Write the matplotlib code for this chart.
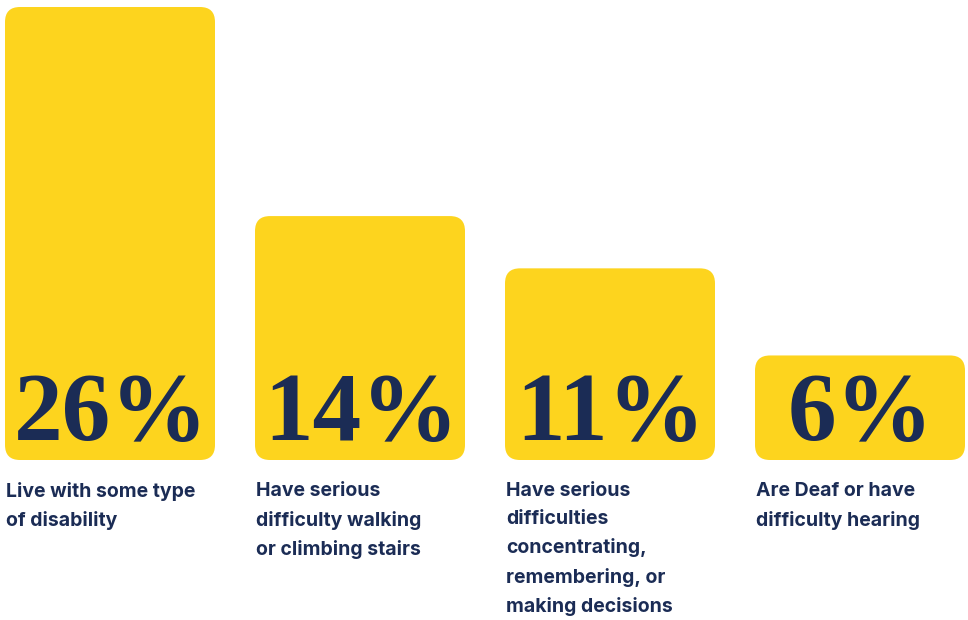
import matplotlib
matplotlib.use("Agg")
import matplotlib.pyplot as plt
from matplotlib.patches import FancyBboxPatch

categories = [
    "Live with some type\nof disability",
    "Have serious\ndifficulty walking\nor climbing stairs",
    "Have serious\ndifficulties\nconcentrating,\nremembering, or\nmaking decisions",
    "Are Deaf or have\ndifficulty hearing",
]
values = [26, 14, 11, 6]
value_labels = ["26%", "14%", "11%", "6%"]

YELLOW = "#FDD41E"
NAVY = "#1B2C55"

W, H = 968, 620
fig = plt.figure(figsize=(W / 100, H / 100), dpi=100)
ax = fig.add_axes([0, 0, 1, 1])

px_x = 250.0          # pixels per category unit
px_y = 453.0 / 26.0   # pixels per percent
x0 = 110.0            # pixel center of first bar
base = 460.0          # pixel of baseline from top
ax.set_xlim(-x0 / px_x, (W - x0) / px_x)
ax.set_ylim(-(H - base) / px_y, base / px_y)
ax.axis("off")

bw = 210.0 / px_x
aspect = px_x / px_y
for i, (v, lab, cat) in enumerate(zip(values, value_labels, categories)):
    p = FancyBboxPatch((i - bw / 2, 0), bw, v,
                       boxstyle="round,pad=0,rounding_size=0.06",
                       mutation_aspect=aspect,
                       facecolor=YELLOW, edgecolor="none")
    ax.add_patch(p)
    ax.text(i + 1.0 / px_x, 20.0 / px_y, lab, ha="center", va="baseline",
            fontsize=70, fontweight="bold", family="Liberation Serif", color=NAVY)
    ax.text(i - bw / 2 + 1.0 / px_x, -22.0 / px_y, cat, ha="left", va="top",
            fontsize=14, fontweight="bold", family="Inter", color=NAVY,
            linespacing=1.7)

fig.savefig("out.png", dpi=100)
